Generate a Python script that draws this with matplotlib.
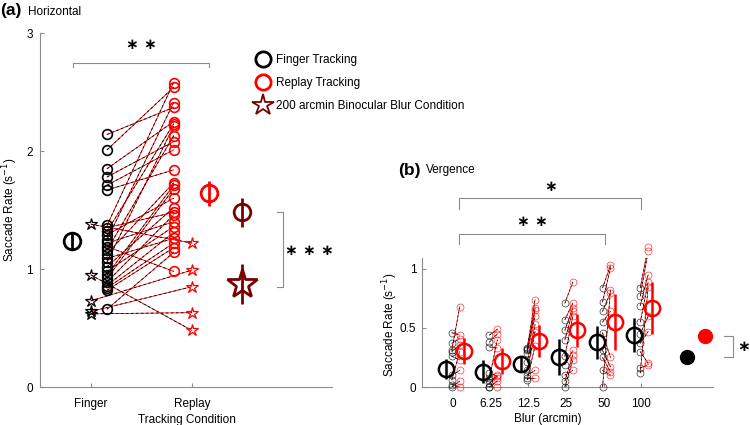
import matplotlib.pyplot as plt
import numpy as np

plt.rcParams['font.family'] = ['Liberation Sans', 'DejaVu Sans']

# ---- panel (a): horizontal saccade rate, one pair per subject ----
a_conditions = ['Finger', 'Replay']
finger = [2.14, 2.01, 1.85, 1.78, 1.71, 1.67, 1.37, 1.35, 1.32, 1.29, 1.25, 1.22, 1.19,
          1.16, 1.13, 1.09, 1.06, 1.02, 0.98, 0.95, 0.92, 0.89, 0.86, 0.84, 0.82, 0.66]
replay = [2.37, 2.54, 2.25, 2.08, 2.01, 1.84, 2.58, 1.48, 2.23, 1.60, 2.41, 1.40, 0.98,
          2.13, 1.73, 1.26, 2.21, 1.52, 1.36, 1.71, 1.68, 1.46, 1.31, 1.22, 1.18, 1.14]
finger_blur = [1.38, 0.95, 0.73, 0.64, 0.62]
replay_blur = [1.22, 0.48, 0.99, 0.85, 0.63]
a_mean = [1.24, 1.64, 1.48, 0.87]   # finger, replay, replay (legend colour), 200 arcmin blur
a_err = [0.07, 0.11, 0.12, 0.17]

# ---- panel (b): vergence saccade rate vs blur ----
blur_levels = ['0', '6.25', '12.5', '25', '50', '100']
b_finger = [[0.46, 0.37, 0.31, 0.30, 0.26, 0.10, 0.06, 0.02, 0.00],
            [0.44, 0.38, 0.34, 0.12, 0.06, 0.00, 0.08, 0.03, 0.00],
            [0.33, 0.31, 0.29, 0.21, 0.14, 0.10, 0.08, 0.06, 0.32],
            [0.71, 0.57, 0.48, 0.40, 0.26, 0.19, 0.00, 0.10, 0.05],
            [0.84, 0.72, 0.64, 0.55, 0.46, 0.31, 0.25, 0.14, 0.00],
            [0.84, 0.77, 0.69, 0.55, 0.37, 0.30, 0.16, 0.12, 0.45]]
b_replay = [[0.44, 0.41, 0.68, 0.36, 0.23, 0.14, 0.30, 0.00, 0.05],
            [0.49, 0.45, 0.33, 0.09, 0.08, 0.00, 0.40, 0.10, 0.05],
            [0.74, 0.67, 0.60, 0.53, 0.47, 0.14, 0.08, 0.35, 0.65],
            [0.89, 0.71, 0.67, 0.64, 0.60, 0.31, 0.23, 0.14, 0.27],
            [1.03, 1.01, 0.80, 0.64, 0.25, 0.17, 0.13, 0.10, 0.82],
            [1.19, 1.15, 0.95, 0.89, 0.47, 0.20, 0.19, 0.85, 0.60]]
b_finger_mean = [0.15, 0.13, 0.195, 0.255, 0.38, 0.44]
b_finger_err = [0.085, 0.095, 0.07, 0.155, 0.14, 0.145]
b_replay_mean = [0.305, 0.22, 0.39, 0.48, 0.55, 0.67]
b_replay_err = [0.11, 0.11, 0.135, 0.14, 0.235, 0.22]
b_pooled_mean = [0.25, 0.43]   # finger, replay across all blurs
b_pooled_err = [0.02, 0.05]

DARK = '#7a0000'
AX_GRAY = '#8c8c8c'
FS = 8.5
STAR_FONT = dict(family='DejaVu Sans', fontsize=11, fontweight='bold', ha='center', va='center')


def style_axes(ax):
    for s in ['top', 'right']:
        ax.spines[s].set_visible(False)
    for s in ['left', 'bottom']:
        ax.spines[s].set_color(AX_GRAY)
        ax.spines[s].set_linewidth(0.8)
    ax.tick_params(direction='in', length=3, width=0.8, color=AX_GRAY,
                   labelsize=FS, labelcolor='black')
    ax.tick_params(axis='x', pad=8)
    ax.tick_params(axis='y', pad=5)


def pair_line(ax, x0, x1, y0, y1, lw=0.6):
    ax.plot([x0, x1], [y0, y1], color='red', lw=lw, zorder=2)
    ax.plot([x0, x1], [y0, y1], color='black', lw=lw, ls=(0, (3, 3)), zorder=2)


fig = plt.figure(figsize=(7.5, 4.25), dpi=100)

# ================= (a) =================
ax = fig.add_axes([40 / 750, 38 / 425, 292 / 750, 354 / 425])
style_axes(ax)
xf, xr = 1.16, 1.82
for f, r in zip(finger, replay):
    pair_line(ax, xf, xr, f, r)
for f, r in zip(finger_blur, replay_blur):
    pair_line(ax, 1, 2, f, r)
ax.plot([xf] * len(finger), finger, 'o', ms=7, mfc='none', mec='black', mew=1.2, zorder=3)
ax.plot([xr] * len(replay), replay, 'o', ms=7, mfc='none', mec='red', mew=1.2, zorder=3)
ax.plot([1] * len(finger_blur), finger_blur, '*', ms=9, mfc='none', mec='black', mew=0.9, zorder=3)
ax.plot([2] * len(replay_blur), replay_blur, '*', ms=9, mfc='none', mec='red', mew=0.9, zorder=3)

mean_x = [0.81, 2.17, 2.5, 2.5]
mean_c = ['black', 'red', DARK, DARK]
mean_m = ['o', 'o', 'o', '*']
mean_s = [12, 12, 12, 22]
for x, m, e, c, mk, s in zip(mean_x, a_mean, a_err, mean_c, mean_m, mean_s):
    ax.errorbar(x, m, yerr=e, fmt=mk, ms=s, mfc='none', mec=c, mew=2,
                ecolor=c, elinewidth=2, capsize=0, zorder=4)

ax.set_xlim(0.495, 3.39)
ax.set_ylim(0, 3)
ax.set_xticks([1, 2])
ax.set_xticklabels(a_conditions)
ax.set_yticks([0, 1, 2, 3])
ax.set_xlabel('Tracking Condition', fontsize=FS, va='center')
ax.set_ylabel('Saccade Rate (s$^{-1}$)', fontsize=FS, va='center')
ax.xaxis.set_label_coords(0.503, -0.092)
ax.yaxis.set_label_coords(-0.103, 0.5)

# significance brackets
ax.plot([0.82, 0.82, 2.17, 2.17], [2.71, 2.75, 2.75, 2.71], color=AX_GRAY, lw=0.8, clip_on=False)
ax.text(1.5, 2.9, '∗ ∗', **STAR_FONT)
ax.plot([2.84, 2.9, 2.9, 2.84], [1.48, 1.48, 0.85, 0.85], color=AX_GRAY, lw=0.8, clip_on=False)
ax.text(3.17, 1.16, '∗ ∗ ∗', **STAR_FONT)

handles = [plt.Line2D([], [], ls='none', marker='o', ms=11, mfc='none', mec='black', mew=2),
           plt.Line2D([], [], ls='none', marker='o', ms=11, mfc='none', mec='red', mew=2),
           plt.Line2D([], [], ls='none', marker='*', ms=16, mfc='none', mec=DARK, mew=1.3)]
ax.legend(handles, ['Finger Tracking', 'Replay Tracking', '200 arcmin Binocular Blur Condition'],
          loc='upper left', bbox_to_anchor=(256 / 750, 1 - 54 / 425), bbox_transform=fig.transFigure,
          frameon=False, fontsize=FS, handlelength=1.2, handletextpad=0.5, labelspacing=0.95,
          borderpad=0, borderaxespad=0)

fig.text(0.0, 1 - 11 / 425, '(a)', fontsize=12.5, fontweight='bold', va='center')
fig.text(28 / 750, 1 - 12 / 425, 'Horizontal', fontsize=FS, va='center')

# ================= (b) =================
bx = fig.add_axes([422 / 750, 38 / 425, 291 / 750, 129 / 425])
style_axes(bx)
pos = np.arange(1, len(blur_levels) + 1)
for i, p in enumerate(pos):
    for f, r in zip(b_finger[i], b_replay[i]):
        pair_line(bx, p - 0.03, p + 0.18, f, r, lw=0.5)
    bx.plot([p - 0.03] * len(b_finger[i]), b_finger[i], 'o', ms=5, mfc='none',
            mec='black', mew=0.5, alpha=0.8, zorder=3, clip_on=False)
    bx.plot([p + 0.18] * len(b_replay[i]), b_replay[i], 'o', ms=5, mfc='none',
            mec='red', mew=0.5, alpha=0.8, zorder=3, clip_on=False)
bx.errorbar(pos - 0.19, b_finger_mean, yerr=b_finger_err, fmt='o', ms=11, mfc='none',
            mec='black', mew=1.8, ecolor='black', elinewidth=1.8, capsize=0, zorder=4)
bx.errorbar(pos + 0.29, b_replay_mean, yerr=b_replay_err, fmt='o', ms=11, mfc='none',
            mec='red', mew=1.8, ecolor='red', elinewidth=1.8, capsize=0, zorder=4)
bx.errorbar([7.2], [b_pooled_mean[0]], yerr=[b_pooled_err[0]], fmt='o', ms=10, color='black',
            elinewidth=1.5, capsize=0, zorder=4)
bx.errorbar([7.68], [b_pooled_mean[1]], yerr=[b_pooled_err[1]], fmt='o', ms=10, color='red',
            elinewidth=1.5, capsize=0, zorder=4)

bx.set_xlim(0.18, 7.9)
bx.set_ylim(0, 1.093)
bx.set_xticks(pos)
bx.set_xticklabels(blur_levels)
bx.set_yticks([0, 0.5, 1])
bx.set_yticklabels(['0', '0.5', '1'])
bx.tick_params(axis='y', pad=4)
bx.set_xlabel('Blur (arcmin)', fontsize=FS, va='center')
bx.set_ylabel('Saccade Rate (s$^{-1}$)', fontsize=FS, va='center')
bx.xaxis.set_label_coords(0.433, -0.25)
bx.yaxis.set_label_coords(-0.108, 0.48)

bx.plot([1.15, 1.15, 6, 6], [1.51, 1.60, 1.60, 1.51], color=AX_GRAY, lw=0.8, clip_on=False)
bx.text(3.6, 1.70, '∗', **STAR_FONT)
bx.plot([1.15, 1.15, 5.04, 5.04], [1.21, 1.30, 1.30, 1.21], color=AX_GRAY, lw=0.8, clip_on=False)
bx.text(3.1, 1.40, '∗ ∗', **STAR_FONT)
bx.plot([8.19, 8.43, 8.43, 8.19], [0.43, 0.43, 0.25, 0.25], color=AX_GRAY, lw=0.8, clip_on=False)
bx.text(8.72, 0.34, '∗', clip_on=False, **STAR_FONT)

fig.text(398 / 750, 1 - 171 / 425, '(b)', fontsize=12.5, fontweight='bold', va='center')
fig.text(426 / 750, 1 - 170 / 425, 'Vergence', fontsize=FS, va='center')

fig.savefig('out.png', dpi=100)
